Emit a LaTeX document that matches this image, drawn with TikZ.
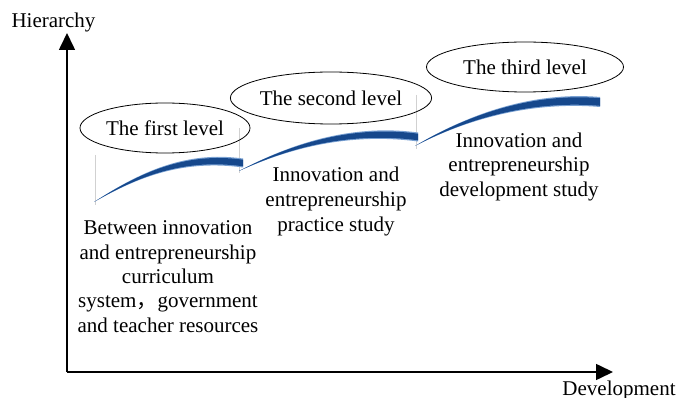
\documentclass[tikz,border=0pt]{standalone}
\usepackage{fontspec}
\setmainfont{Liberation Serif}
\newfontfamily\cjk{Noto Sans CJK SC}
\usetikzlibrary{shapes.geometric,arrows.meta,calc}
\definecolor{arcdark}{RGB}{22,72,140}
\definecolor{arclight}{RGB}{120,160,210}
\newcommand\levelarc[6]{%
  \fill[#6] (#1) .. controls ($(#2)+(0,-0.4*#5)$) and ($(#3)+(0,-#5)$) .. ($(#4)+(0,-#5)$)
    -- ($(#4)+(0,#5)$) .. controls ($(#3)+(0,#5)$) and ($(#2)+(0,0.4*#5)$) .. (#1) -- cycle;}
\tikzset{
  lvl/.style={ellipse,draw=black,line width=0.8pt,inner sep=0pt,font=\fontsize{21}{25}\selectfont},
  desc/.style={align=center,inner sep=0pt,font=\fontsize{21}{25}\selectfont},
  axislabel/.style={inner sep=0pt,font=\fontsize{21}{25}\selectfont},
  axis/.style={line width=1.6pt,-{Triangle[length=17pt,width=16pt]}},
  artifact/.style={draw=black!18,line width=0.4pt}
}
\begin{document}
\begin{tikzpicture}[x=1pt,y=-1pt]
\useasboundingbox[fill=white] (0,0) rectangle (680,398);
% faint edge lines
\draw[artifact] (95,155) -- (95,205);
\draw[artifact] (239,128) -- (239,173);
\draw[artifact] (416,95) -- (416,149);
% arcs
\levelarc{94,202}{140,174}{185,155}{243,163}{4.5}{arclight}
\levelarc{94,202}{140,174}{185,155}{243,163}{3.3}{arcdark}
\levelarc{239,171}{290,146}{350,128}{418,137}{4.5}{arclight}
\levelarc{239,171}{290,146}{350,128}{418,137}{3.3}{arcdark}
\levelarc{415,146}{465,118}{530,96}{600,102}{5}{arclight}
\levelarc{415,146}{465,118}{530,96}{600,102}{3.8}{arcdark}
% ellipses
\node[lvl,minimum width=170pt,minimum height=50pt] (e1) at (165,128) {The first level};
\node[lvl,minimum width=188pt,minimum height=52pt] (e2) at (331,98) {The second level};
\node[lvl,minimum width=197pt,minimum height=50pt] (e3) at (525,67) {The third level};
% descriptions (anchor=base is the last line's baseline)
\node[desc,anchor=base,font=\fontsize{21}{24.3}\selectfont] (t1) at (168,332)
  {Between innovation\\and entrepreneurship\\curriculum\\system{\cjk ，}government\\and teacher resources};
\node[desc,anchor=base] (t2) at (336,232)
  {Innovation and\\entrepreneurship\\practice study};
\node[desc,anchor=base] (t3) at (519,197)
  {Innovation and\\entrepreneurship\\development study};
% axes
\coordinate (O) at (67,372);
\coordinate (ytip) at (67,33);
\coordinate (xtip) at (613,372);
\draw[axis] (O) -- (ytip);
\draw[axis] (O) -- (xtip);
\node[axislabel,anchor=base] (ylab) at (53.5,28) {Hierarchy};
\node[axislabel,anchor=base] (xlab) at (619,395) {Development};
\end{tikzpicture}
\end{document}
